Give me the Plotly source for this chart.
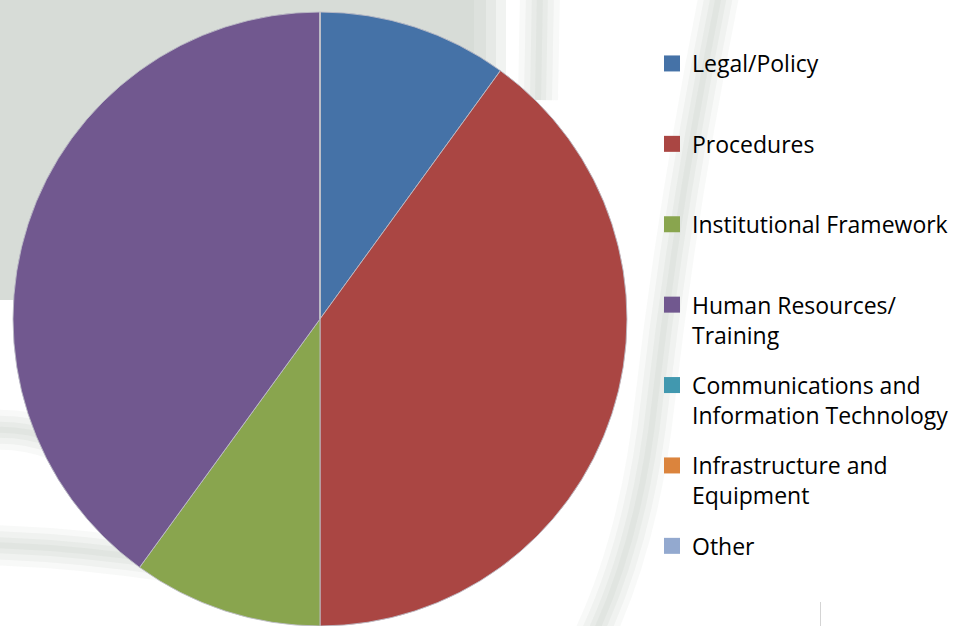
import plotly.graph_objects as go

# ---- data ----
categories = ["Legal/Policy", "Procedures", "Institutional Framework",
              "Human Resources/ Training", "Communications and Information Technology",
              "Infrastructure and Equipment", "Other"]
legend_labels = ["Legal/Policy<br> ", "Procedures<br> ", "Institutional Framework<br> ",
                 "Human Resources/<br>Training", "Communications and<br>Information Technology",
                 "Infrastructure and<br>Equipment", "Other<br> "]
values = [1, 4, 1, 4, 0, 0, 0]
colors = ["#4572A7", "#AA4643", "#89A54E", "#71588F", "#4198AF", "#DB843D", "#93A9CF"]

W, H = 955, 626
TOP = 12  # top margin in px


def px(x):
    return x / W


def py(y):
    # paper y for a pixel row (paper spans the plot area below the top margin)
    return (H - y) / (H - TOP)


def pt(x, y):
    return f"{px(x):.5f},{py(y):.5f}"


fig = go.Figure()
fig.add_trace(go.Pie(
    labels=categories, values=values, sort=False, direction="clockwise", rotation=0,
    marker=dict(colors=colors, line=dict(color="rgba(190,190,200,0.9)", width=1)),
    textinfo="none", hoverinfo="label+value", showlegend=False,
    domain=dict(x=[px(13), px(627)], y=[0, 1]),
))

for cat, lab, col in zip(categories, legend_labels, colors):
    fig.add_trace(go.Scatter(
        x=[None], y=[None], mode="markers", name=lab, legendgroup=cat,
        marker=dict(symbol="square", size=16, color=col), hoverinfo="skip",
    ))

gray = "#d7dcd7"
shapes = [
    dict(type="rect", xref="paper", yref="paper", x0=0, x1=px(474), y0=py(300), y1=py(0),
         fillcolor=gray, line_width=0, layer="below"),
    dict(type="rect", xref="paper", yref="paper", x0=px(474), x1=px(486), y0=py(110), y1=py(0),
         fillcolor="#dde1dd", line_width=0, layer="below"),
    dict(type="rect", xref="paper", yref="paper", x0=px(486), x1=px(496), y0=py(95), y1=py(0),
         fillcolor="#e6e9e6", line_width=0, layer="below"),
    dict(type="rect", xref="paper", yref="paper", x0=px(496), x1=px(506), y0=py(85), y1=py(0),
         fillcolor="#f1f3f1", line_width=0, layer="below"),
]

# soft watermark strokes (layered to imitate blur)
stroke_paths = [
    "M" + pt(720, -10) + " Q" + pt(678, 200) + " " + pt(655, 400) + " Q" + pt(640, 540) + " " + pt(592, 640),
    "M" + pt(540, -10) + " L" + pt(538, 100),
    "M" + pt(-10, 430) + " Q" + pt(25, 428) + " " + pt(55, 440),
    "M" + pt(-10, 545) + " Q" + pt(80, 548) + " " + pt(170, 562),
]
for path in stroke_paths:
    for w, op in [(40, 0.12), (28, 0.16), (16, 0.2), (6, 0.22)]:
        shapes.append(dict(type="path", xref="paper", yref="paper", path=path,
                           line=dict(color=f"rgba(200,208,200,{op})", width=w), layer="below"))

shapes.append(dict(type="line", xref="paper", yref="paper", x0=px(820.5), x1=px(820.5),
                   y0=py(626), y1=py(602), line=dict(color="#d4d4d4", width=1)))

fig.update_layout(
    width=W, height=H, margin=dict(l=0, r=0, t=TOP, b=0),
    paper_bgcolor="white", plot_bgcolor="rgba(0,0,0,0)",
    xaxis=dict(visible=False), yaxis=dict(visible=False),
    shapes=shapes,
    legend=dict(
        x=px(652), y=py(42), xanchor="left", yanchor="top",
        font=dict(family="Open Sans", size=23, color="#000000"),
        bgcolor="rgba(0,0,0,0)", traceorder="grouped", tracegroupgap=17.6,
        valign="top",
    ),
)

fig.write_html("out.html", config={"displayModeBar": False},
               post_script="document.body.style.margin='0';document.body.style.overflow='hidden';")
